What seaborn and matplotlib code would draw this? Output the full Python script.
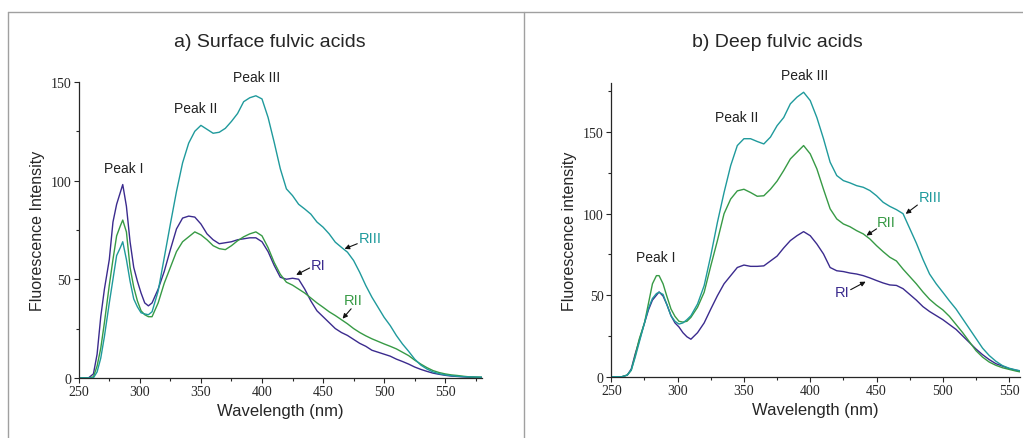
import pandas as pd
import seaborn as sns
import matplotlib.pyplot as plt
from matplotlib.lines import Line2D
from matplotlib.ticker import MultipleLocator, AutoMinorLocator

# wavelength grid (nm) for each panel
wl_a = [250, 258, 262, 265, 268, 271, 275, 278, 281, 284, 286, 289, 292, 295, 298, 301, 304, 307,
        310, 315, 320, 325, 330, 335, 340, 345, 350, 355, 360, 365, 370, 375, 380, 385, 390, 395,
        400, 405, 410, 415, 420, 425, 430, 435, 440, 445, 450, 455, 460, 465, 470, 475, 480, 485,
        490, 495, 500, 505, 510, 515, 520, 525, 530, 535, 540, 545, 550, 555, 560, 565, 570, 575, 580]

wl_b = [250, 258, 262, 265, 268, 271, 275, 278, 281, 284, 286, 289, 292, 295, 298, 301, 304, 307,
        310, 315, 320, 325, 330, 335, 340, 345, 350, 355, 360, 365, 370, 375, 380, 385, 390, 395,
        400, 405, 410, 415, 420, 425, 430, 435, 440, 445, 450, 455, 460, 465, 470, 475, 480, 485,
        490, 495, 500, 505, 510, 515, 520, 525, 530, 535, 540, 545, 550, 555, 558]

# a) surface fulvic acids
a_RI = [0, 0, 2, 12, 31, 45, 60, 79, 88, 94, 98, 87, 69, 56, 49, 43, 38, 36.5,
        38, 45, 54, 65, 75.5, 81, 82, 81.5, 78, 73, 70, 68, 68.5, 69, 70, 70.5, 71, 71,
        69, 64, 57, 51, 50, 50.5, 50, 45, 39, 34, 31, 28, 25, 23, 21.5, 19.5, 17.5, 16,
        14, 13, 12, 11, 9.5, 8.3, 7, 5.5, 4.3, 3.3, 2.4, 1.8, 1.3, 0.9, 0.7, 0.5, 0.3, 0.2, 0.2]
a_RII = [0, 0, 0.5, 6, 15, 28, 47, 60, 72, 77, 80, 74, 56, 46, 39, 34, 32, 31,
         31, 38, 48, 56, 64, 69, 71.5, 74, 72.5, 70, 67, 65.5, 65, 67, 69.5, 71.5, 73, 74,
         72, 66, 58.5, 52.5, 48.5, 47, 45, 43, 40.5, 38, 35.8, 33.5, 31.6, 29.5, 27.4, 25, 23, 21.3,
         19.8, 18.5, 17.2, 16, 14.7, 13, 11.3, 9, 7, 5.2, 3.7, 2.7, 2, 1.5, 1.2, 0.8, 0.5, 0.4, 0.3]
a_RIII = [0, 0, 0, 3, 10, 21, 38, 50, 62, 66, 69, 60, 49, 40, 36, 33, 32.4, 32,
          33.5, 44, 61, 78, 94.5, 109, 119, 125, 128, 126, 124, 124.5, 126.5, 130, 134, 140, 142, 143,
          141.4, 132, 119.4, 106, 95.8, 92.4, 88, 85.6, 83, 79, 76.4, 73, 68.8, 66.2, 63.7, 59.5, 53.5, 46.8,
          40.9, 35.8, 30.7, 26.5, 21.5, 17.2, 13.5, 9.5, 6.5, 4.5, 3, 2.1, 1.5, 1.1, 0.8, 0.6, 0.5, 0.4, 0.3]

# b) deep fulvic acids
b_RI = [0, 0, 1, 4.7, 14, 22, 33, 41, 47, 50, 52, 49.5, 44, 37.4, 33, 30.5, 27, 24.5,
        23, 27, 33, 41.5, 49.7, 57, 62, 67, 68.5, 67.7, 67.7, 68, 71, 74, 79, 83.5, 86.5, 89,
        86.5, 81.4, 75.3, 67, 65, 64.5, 63.6, 63, 62, 60.6, 59, 57.5, 56.3, 56, 54, 50.5, 47, 43,
        40, 37.5, 35, 32, 29, 25, 21, 17, 13.5, 10.5, 8, 6.5, 5, 4, 3.5]
b_RII = [0, 0, 1, 4, 13, 23, 33, 45, 57, 62, 62, 57, 49, 41.5, 37, 34, 33.5, 34,
         36.4, 42.6, 51.8, 68, 83.5, 100, 109, 114, 115, 113, 110.7, 111, 115, 120, 126.5, 133.6, 137.7, 141.8,
         136.7, 127.5, 115, 103, 96.8, 93.7, 92, 89.6, 87.6, 84.5, 80.4, 76.7, 73.3, 71, 66, 61.5, 57, 52,
         47.5, 44, 41, 37, 32, 27, 21.5, 16, 12, 9, 7, 5.5, 4.5, 3.5, 3]
b_RIII = [0, 0, 1, 4, 12, 21, 33, 42, 48, 51, 51.8, 50.5, 44, 37.4, 34, 32.3, 33, 35,
          37.4, 44.6, 55.9, 74.3, 94.7, 113, 129.5, 141.8, 146, 146, 144.3, 142.8, 147, 154, 159, 167.4, 171.5, 174.5,
          169.4, 159, 146, 131.6, 123.4, 120.3, 118.9, 117.2, 116.2, 114.2, 111, 107, 104.5, 102.5, 100, 91, 82, 72,
          63, 57, 51.8, 46.5, 41.5, 35.5, 29.5, 23.5, 17.5, 13, 9.5, 6.8, 5.2, 4.2, 3.7]

samples = ['RI', 'RII', 'RIII']
colors = {'RI': '#3b2b8e', 'RII': '#379a45', 'RIII': '#1f9a9c'}


def long_table(wl, series):
    rows = []
    for name, vals in zip(samples, series):
        rows.append(pd.DataFrame({'wavelength': wl, 'intensity': vals, 'sample': name}))
    return pd.concat(rows, ignore_index=True)


df_a = long_table(wl_a, [a_RI, a_RII, a_RIII])
df_b = long_table(wl_b, [b_RI, b_RII, b_RIII])

sns.set_style('ticks')
plt.rcParams['font.family'] = ['Liberation Sans', 'DejaVu Sans']

fig = plt.figure(figsize=(10.23, 4.39), dpi=100)
ax_a = fig.add_axes([0.077, 0.137, 0.394, 0.674])
ax_b = fig.add_axes([0.5976, 0.1396, 0.3992, 0.6684])

for ax, df in [(ax_a, df_a), (ax_b, df_b)]:
    sns.lineplot(data=df, x='wavelength', y='intensity', hue='sample', palette=colors,
                 estimator=None, linewidth=1.0, legend=False, ax=ax)
    sns.despine(ax=ax)
    ax.spines['left'].set_linewidth(0.9)
    ax.spines['bottom'].set_linewidth(0.9)
    ax.xaxis.set_major_locator(MultipleLocator(50))
    ax.yaxis.set_major_locator(MultipleLocator(50))
    ax.xaxis.set_minor_locator(AutoMinorLocator(2))
    ax.yaxis.set_minor_locator(AutoMinorLocator(2))
    ax.tick_params(which='major', direction='out', length=3.5, width=0.8, pad=2)
    ax.tick_params(which='minor', direction='out', length=2, width=0.8)
    for lab in ax.get_xticklabels() + ax.get_yticklabels():
        lab.set_fontfamily('Liberation Serif')
        lab.set_fontsize(10)
    ax.set_xlabel('Wavelength (nm)', fontsize=12, labelpad=3)

ax_a.set_xlim(250, 580)
ax_a.set_ylim(0, 150)
ax_b.set_xlim(250, 558)
ax_b.set_ylim(0, 180)
ax_a.set_ylabel('Fluorescence Intensity', fontsize=11.5, labelpad=4)
ax_b.set_ylabel('Fluorescence intensity', fontsize=11.5, labelpad=4)

fig.text(0.264, 0.904, 'a) Surface fulvic acids', fontsize=14, ha='center', va='center')
fig.text(0.7595, 0.904, 'b) Deep fulvic acids', fontsize=14, ha='center', va='center')

# peak labels
for ax, peaks in [(ax_a, [('Peak I', 286.6, 106.4), ('Peak II', 346, 136.8), ('Peak III', 396, 152.7)]),
                  (ax_b, [('Peak I', 283.6, 73.7), ('Peak II', 344.3, 159.2), ('Peak III', 395.4, 184.8)])]:
    for txt, x, y in peaks:
        ax.text(x, y, txt, fontsize=10, ha='center', va='center', color='#222222')

# sample labels with arrows
arrow = dict(arrowstyle='-|>', color='#111111', lw=0.8, mutation_scale=7, shrinkA=0, shrinkB=0)
for ax, labels in [(ax_a, [('RIII', 489, 70.8, (478, 68), (467.6, 65.4)),
                           ('RI', 446, 57.4, (439, 55.7), (428, 52.2)),
                           ('RII', 475, 39.5, (473, 35), (466, 30))]),
                   (ax_b, [('RIII', 490.3, 110.1, (480.8, 105.3), (472, 99.9)),
                           ('RII', 457.6, 94.8, (450, 90.7), (442.4, 86.6)),
                           ('RI', 424, 51.8, (430.5, 53.4), (441.8, 58.3))])]:
    for txt, x, y, tail, tip in labels:
        ax.text(x, y, txt, fontsize=10.5, ha='center', va='center', color=colors[txt])
        ax.annotate('', xy=tip, xytext=tail, arrowprops=arrow)

# grey panel frame
frame = dict(color='#a0a0a0', lw=1.0, transform=fig.transFigure)
fig.add_artist(Line2D([0.0078, 1.0], [0.970, 0.970], **frame))
fig.add_artist(Line2D([0.0078, 0.0078], [0.0, 0.970], **frame))
fig.add_artist(Line2D([0.512, 0.512], [0.0, 0.970], **frame))

plt.savefig('out.png', dpi=100)
